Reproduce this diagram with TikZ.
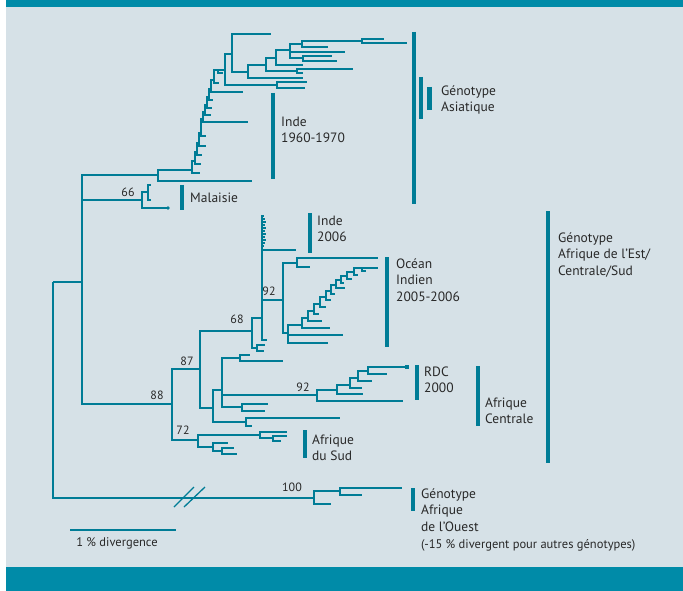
\documentclass[tikz,border=0pt]{standalone}
\usepackage{fontspec}
\setmainfont{PT Sans}
\definecolor{panel}{RGB}{214,225,231}
\definecolor{band}{RGB}{0,139,168}
\definecolor{tree}{RGB}{0,124,150}
\definecolor{ink}{RGB}{40,40,40}
\tikzset{
    every node/.style={inner sep=0pt, text=ink,
        font=\fontsize{13.5}{16.5}\selectfont}
}
\tikzset{
    branch/.style={draw=tree, line width=2pt},
    clade/.style={draw=tree, line width=3.2pt},
    lab/.style={anchor=west, align=left},
    boot/.style={font=\fontsize{12}{14}\selectfont},
    small/.style={font=\fontsize{12.5}{14}\selectfont}
}

\begin{document}
\begin{tikzpicture}[x=1pt, y=-1pt]
  \useasboundingbox (0,0) rectangle (683,591);
  \fill[white] (0,0) rectangle (683,591);
  \fill[panel] (6,0) rectangle (683,567);
  \fill[band] (6,0) rectangle (683,7);
  \fill[band] (6,567) rectangle (683,591);

  % tree points
  \foreach \n/\x/\y in {r/53/282, top/82/282, wa/314/498, mal/142/200,
      m1/148/192, m1a/151/185, m1b/151/200, m2/168/208, as/158/175,
      asl/252/181, n1/225/70, k/277/85, k1/307/82, k2/305/88, a/232/54,
      atop/271/34, b/248/72, bl/303/78, c/266/65, d/276/58, dl/303/65,
      cf/297/71, cf1/353/69, cf2/303/73, e/290/50, el/345/52, g/303/58,
      g1/332/56, g2/337/61, f/302/44, fl/328/47, h/362/41, h1/384/39,
      h2/407/43, wa1/340/491, wa2/331/504, wa11/402/488, wa12/362/495,
      af/172/404, n87/200/369, n72/198/440, n68/252/331, p/213/408,
      q/222/390, rr/240/358, rr1/250/355, rr2/283/361, rd/317/395,
      rdl/403/401, rn/337/390, rnl/363/394, rl/350/385, rla/362/388,
      rl2/358/378, rlb/372/381, rl3/368/371, rlt/407/367, rlc/387/374,
      s/242/407, s1/268/404, s2/265/411, t/246/422, t1/340/418,
      t2/252/426, u/260/435, u1/287/432, u2/273/438, u21/287/436,
      u22/281/441, v/213/447, v1/228/443, v2/222/451, v21/234/448,
      v22/237/454, z/257/348, z1/265/345, z2/264/351, i6/262/318,
      i6l/296/250, i6b/267/340, oi/283/300, oit/297/263, oit1/378/258,
      oit2/310/267, oib/288/333, oc1/343/335, oc2/328/343, ot/378/268}
    \coordinate (\n) at (\x,\y);
  \foreach \i/\x/\y/\s in {0/192/170/8, 1/195/161/6, 2/197/152/5,
      3/199/143/7, 4/201/133/5, 5/203/119/45, 6/205/112/6, 7/207/105/5,
      8/209/97/4, 9/211/89/32, 10/214/80/5, 11/218/70/5}
    {\coordinate (ab\i) at (\x,\y); \coordinate (al\i) at (\x+\s,\y+3);}
  \foreach \i/\x/\y/\s in {0/302/325/28, 1/308/318/14, 2/314/311/5,
      3/320/304/6, 4/326/297/5, 5/331/291/4, 6/336/285/9, 7/341/280/3,
      8/347/276/5, 9/354/272/4, 10/362/268/4}
    {\coordinate (ob\i) at (\x,\y); \coordinate (ol\i) at (\x+\s,\y+3);}
  \foreach \i/\y/\s in {0/216/2, 1/219/3, 2/222/4, 3/225/3, 4/228/4,
      5/231/3, 6/234/4, 7/237/3, 8/240/4, 9/243/3, 10/246/2}
    \coordinate (i6s\i) at (262+\s,\y);

  % branches
  \foreach \a/\b in {r/top, r/wa, top/as, top/mal, top/af, mal/m1, mal/m2,
      m1/m1a, m1/m1b, as/ab0, as/asl, ab11/n1, n1/a, n1/k, k/k1, k/k2,
      a/atop, a/b, b/c, b/bl, c/d, c/cf, cf/cf1, cf/cf2, d/e, d/dl, e/f,
      e/el, e/g, g/g1, g/g2, f/h, f/fl, h/h1, h/h2, wa/wa1, wa/wa2,
      wa1/wa11, wa1/wa12, af/n87, af/n72, n87/n68, n87/p, p/q, p/t, q/rr,
      q/rd, q/s, rr/rr1, rr/rr2, rd/rn, rd/rdl, rn/rl, rn/rnl, rl/rl2,
      rl/rla, rl2/rl3, rl2/rlb, rl3/rlt, rl3/rlc, s/s1, s/s2, t/t1, t/t2,
      n72/u, n72/v, u/u1, u/u2, u2/u21, u2/u22, v/v1, v/v2, v2/v21,
      v2/v22, n68/i6, n68/z, z/z1, z/z2, i6/oi, i6/i6l, i6/i6b, oi/oit,
      oi/oib, oit/oit1, oit/oit2, oib/ob0, oib/oc1, oib/oc2, ob10/ot}
    \draw[branch] (\a) |- (\b);
  \foreach \i [evaluate=\i as \j using int(\i+1)] in {0,...,10}
    \draw[branch] (ab\i) |- (ab\j);
  \foreach \i in {0,...,11}
    \draw[branch] (ab\i) |- (al\i);
  \foreach \i [evaluate=\i as \j using int(\i+1)] in {0,...,9}
    \draw[branch] (ob\i) |- (ob\j);
  \foreach \i in {0,...,10}
    \draw[branch] (ob\i) |- (ol\i);
  \foreach \i in {0,...,10}
    \draw[branch] (i6) |- (i6s\i);
  \fill[tree] (m2) circle (1.9);
  \fill[tree] (rlt) ++(-2,-2) rectangle ++(4,4);

  % broken root branch
  \draw[tree, line width=1.3pt] (174,507) -- (194,487);
  \draw[tree, line width=1.3pt] (184,507) -- (205,487);

  % bootstrap values
  \node[boot] (b66) at (128,192) {66};
  \node[boot] (b88) at (157,395) {88};
  \node[boot] (b87) at (187,361) {87};
  \node[boot] (b68) at (237,319) {68};
  \node[boot] (b92a) at (269,291) {92};
  \node[boot] (b92b) at (303,387) {92};
  \node[boot] (b72) at (183,430) {72};
  \node[boot] (b100) at (292,487) {100};

  % clade bars
  \draw[clade] (273,93) -- (273,179);
  \draw[clade] (414,32) -- (414,204);
  \draw[clade] (421,77) -- (421,119);
  \draw[clade, line width=5pt] (429,87) -- (429,110);
  \draw[clade] (182,185) -- (182,210);
  \draw[clade] (310,213) -- (310,253);
  \draw[clade] (387,257) -- (387,347);
  \draw[clade] (548,211) -- (548,463);
  \draw[clade] (417,365) -- (417,400);
  \draw[clade] (478,366) -- (478,426);
  \draw[clade] (305,430) -- (305,458);
  \draw[clade] (413,488) -- (413,511);

  \node[lab] (inde70) at (281,130) {Inde\\1960-1970};
  \node[lab] (asiat) at (441,100) {Génotype\\Asiatique};
  \node[lab] (malai) at (190,198) {Malaisie};
  \node[lab] (inde06) at (317,229) {Inde\\2006};
  \node[lab] (ocean) at (396,280) {Océan\\Indien\\2005-2006};
  \node[lab] (ecsa) at (558,255) {Génotype\\Afrique de l’Est/\\Centrale/Sud};
  \node[lab] (rdc) at (424,380) {RDC\\2000};
  \node[lab] (centr) at (485,411) {Afrique\\Centrale};
  \node[lab] (sud) at (312,448) {Afrique\\du Sud};
  \node[lab] (ouest) at (421,510) {Génotype\\Afrique\\de l’Ouest};
  \node[lab, small] (note) at (421,545) {(-15 \% divergent pour autres génotypes)};

  % scale
  \draw[branch] (70,530) -- (176,530);
  \node[small] (div) at (117,543) {1 \% divergence};
\end{tikzpicture}
\end{document}
